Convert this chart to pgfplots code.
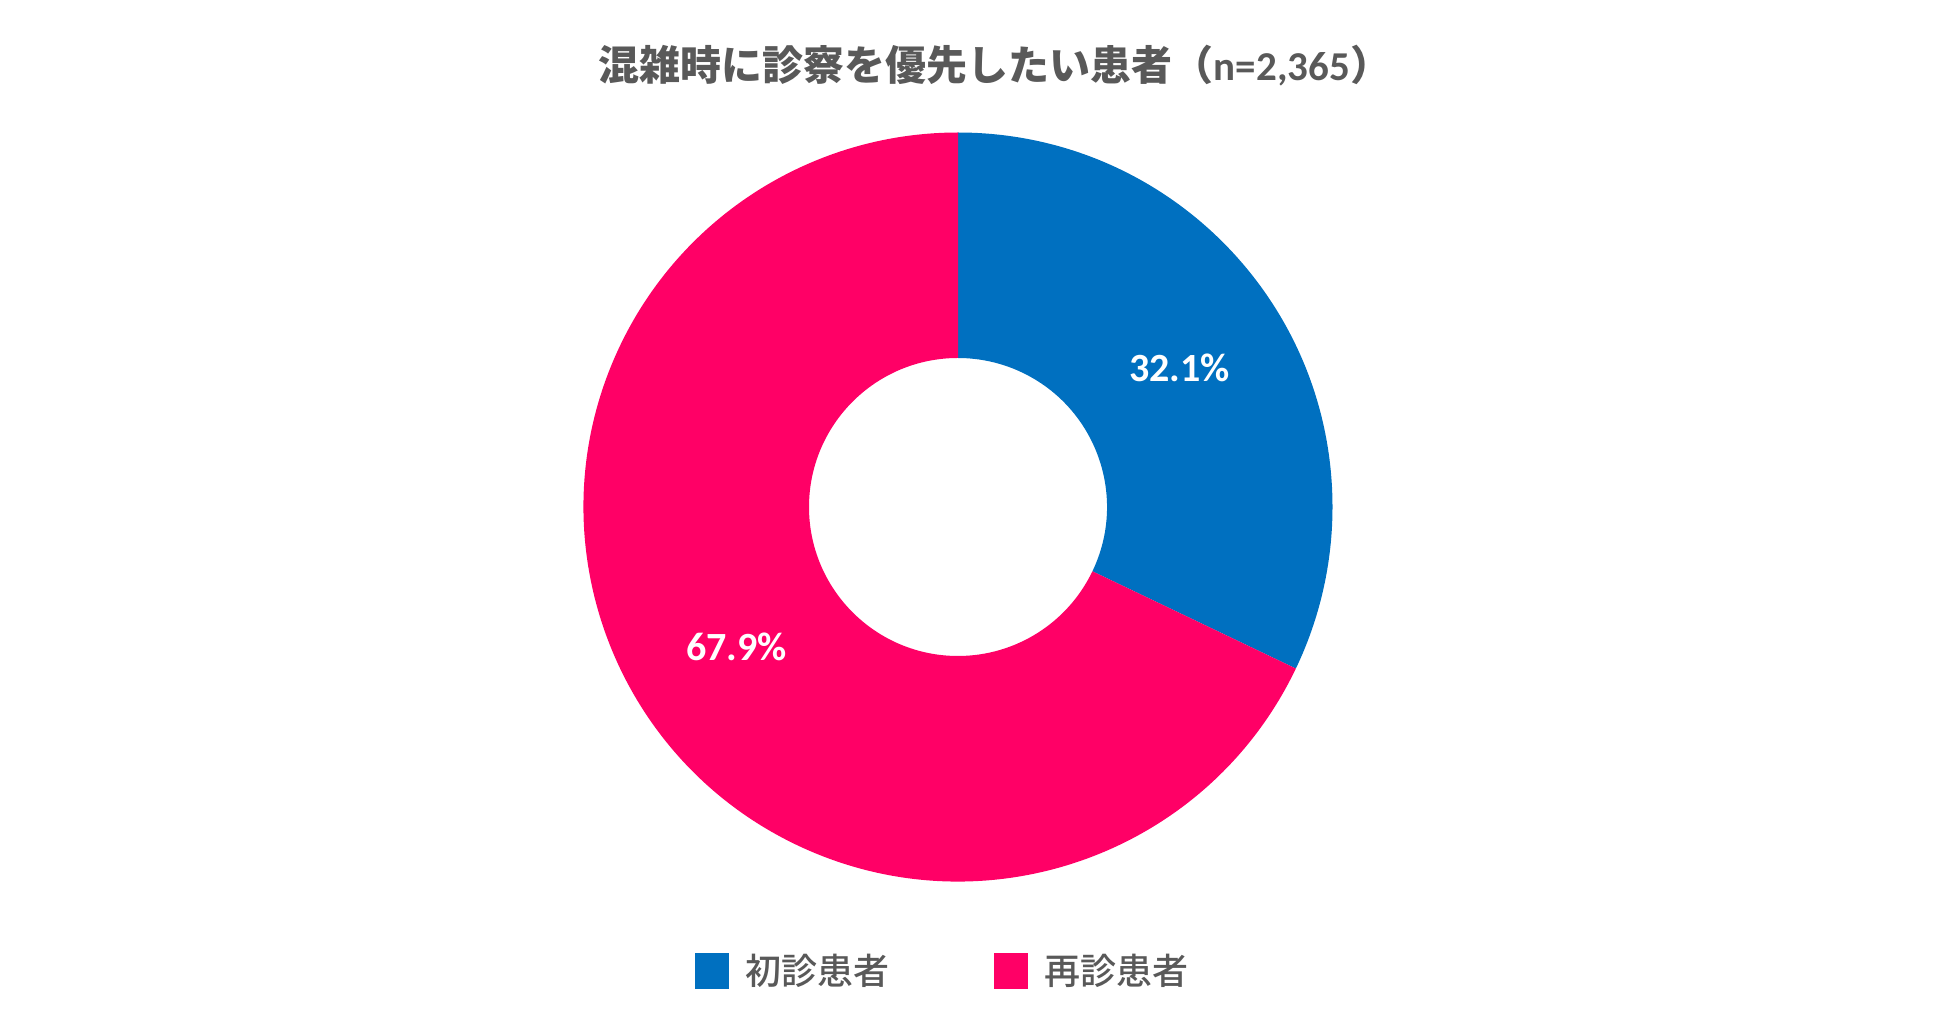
\documentclass[border=0pt]{standalone}
\usepackage{pgfplots}
\usepackage{pgfplotstable}
\pgfplotsset{compat=1.18}
\usepackage{fontspec}
\setmainfont{Carlito}
\newfontfamily\cjk{Noto Sans CJK JP}
\newfontfamily\cjkm{Noto Sans CJK JP Medium}
\definecolor{cblue}{HTML}{0070C0}
\definecolor{cpink}{HTML}{FF0066}
\definecolor{cgray}{HTML}{595959}
\pgfplotstableread{
id value
1 32.1
2 67.9
}\donutdata
\def\ri{0.3979}
\def\rm{0.699}
\begin{document}%
\begin{tikzpicture}
\pgfplotstablegetelem{0}{value}\of\donutdata \let\va\pgfplotsretval
\pgfplotstablegetelem{1}{value}\of\donutdata \let\vb\pgfplotsretval
\pgfmathsetmacro\aend{90-3.6*\va}
\pgfmathsetmacro\amidA{90-1.8*\va}
\pgfmathsetmacro\amidB{\aend-1.8*\vb}
\path[use as bounding box] (0,0) rectangle (969pt,507pt);
\begin{axis}[at={(479pt,253.5pt)}, anchor=center, scale only axis,
  width=374.5pt, height=374.5pt, xmin=-1, xmax=1, ymin=-1, ymax=1,
  hide axis, clip=false]
\fill[cblue] (axis cs:0,1) arc[start angle=90, end angle=\aend, radius=187.25pt]
  -- (axis cs:{\ri*cos(\aend)},{\ri*sin(\aend)}) arc[start angle=\aend, end angle=90, radius=74.5pt] -- cycle;
\fill[cpink] (axis cs:{cos(\aend)},{sin(\aend)}) arc[start angle=\aend, end angle=-270, radius=187.25pt]
  -- (axis cs:0,\ri) arc[start angle=-270, end angle=\aend, radius=74.5pt] -- cycle;
\node[white, font=\fontsize{20}{24}\selectfont\bfseries] at (axis cs:{\rm*cos(\amidA)},{\rm*sin(\amidA)}) {\pgfmathprintnumber[assume math mode=true,fixed,precision=1,fixed zerofill]{\va}\%};
\node[white, font=\fontsize{20}{24}\selectfont\bfseries] at (axis cs:{\rm*cos(\amidB)},{\rm*sin(\amidB)}) {\pgfmathprintnumber[assume math mode=true,fixed,precision=1,fixed zerofill]{\vb}\%};
\end{axis}
\node[cgray, font=\fontsize{20.5}{24}\selectfont\bfseries] at (497.5pt,474pt)
  {{\cjk\bfseries 混雑時に診察を優先したい患者（}n=2,365{\cjk\bfseries ）}};
\fill[cblue] (347.5pt,12.5pt) rectangle (364.5pt,30.5pt);
\node[cgray, anchor=west, inner sep=0pt, font=\fontsize{18}{22}\selectfont\cjkm] at (372.5pt,21.5pt) {初診患者};
\fill[cpink] (497pt,12.5pt) rectangle (514pt,30.5pt);
\node[cgray, anchor=west, inner sep=0pt, font=\fontsize{18}{22}\selectfont\cjkm] at (522pt,21.5pt) {再診患者};
\end{tikzpicture}%
\end{document}
